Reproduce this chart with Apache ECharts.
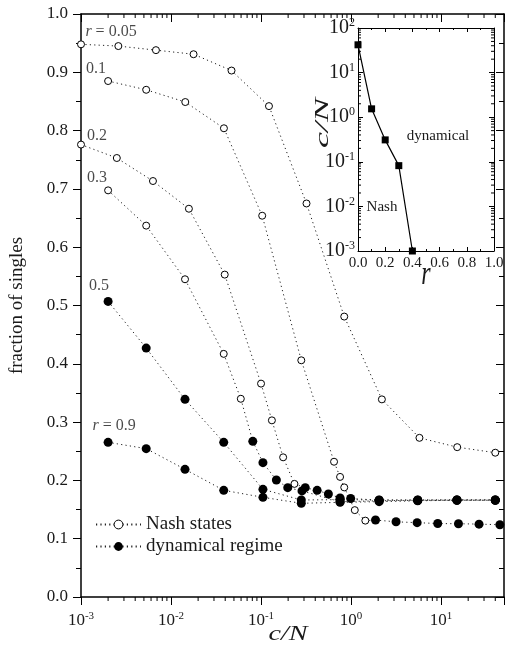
<!DOCTYPE html>
<html>
<head>
<meta charset="utf-8">
<script src="https://cdn.jsdelivr.net/npm/echarts@6/dist/echarts.min.js"></script>
<style>
  html, body { margin: 0; padding: 0; background: #fff; }
  #chart { width: 507px; height: 646px; }
</style>
</head>
<body>
<div id="chart"></div>
<script>
// ---- main panel: fraction of singles versus c/N, one curve per r ----
const r005_cn = [0.001, 0.0026, 0.0068, 0.0178, 0.047, 0.1225, 0.32, 0.84, 2.2, 5.75, 15.1, 40];
const r005_fs = [0.948, 0.945, 0.938, 0.931, 0.903, 0.842, 0.675, 0.481, 0.339, 0.273, 0.257, 0.2475];

const r01_cn = [0.002, 0.0053, 0.0144, 0.0387, 0.103, 0.28, 0.647, 0.755, 0.84, 1.1, 1.44,
                1.87, 3.16, 5.42, 9.18, 15.6, 26.4, 45];
const r01_fs = [0.885, 0.870, 0.849, 0.804, 0.654, 0.406, 0.232, 0.206, 0.188, 0.149, 0.131,
                0.132, 0.129, 0.1275, 0.126, 0.1257, 0.125, 0.124];

const r02_cn = [0.001, 0.0025, 0.0063, 0.0158, 0.0395, 0.1, 0.132, 0.176, 0.235,
                0.31, 0.42, 0.56, 0.755, 0.99, 2.05, 5.5, 15, 40];
const r02_fs = [0.776, 0.753, 0.7135, 0.666, 0.553, 0.366, 0.303, 0.2396, 0.194,
                0.1875, 0.183, 0.1767, 0.170, 0.169, 0.166, 0.166, 0.1665, 0.1665];

const r03_cn = [0.002, 0.0053, 0.0143, 0.0385, 0.0596,
                0.081, 0.105, 0.148, 0.198, 0.285, 0.755, 2.05, 5.5, 15, 40];
const r03_fs = [0.6975, 0.637, 0.545, 0.417, 0.340,
                0.267, 0.2304, 0.2007, 0.1875, 0.182, 0.1635, 0.165, 0.166, 0.166, 0.166];

const r05_cn = [0.002, 0.0053, 0.0143, 0.0385, 0.105, 0.28, 0.755, 2.05, 5.5, 15, 40];
const r05_fs = [0.507, 0.427, 0.339, 0.2653, 0.1847, 0.1664, 0.167, 0.1665, 0.1665, 0.1665, 0.1665];

const r09_cn = [0.002, 0.0053, 0.0143, 0.0385, 0.105, 0.28, 0.755, 2.05, 5.5, 15, 40];
const r09_fs = [0.2653, 0.2545, 0.219, 0.183, 0.171, 0.1607, 0.1624, 0.1635, 0.165, 0.166, 0.166];

// how many leading points of each curve are Nash states (the rest are dynamical)
const curveLabels = ['r = 0.05', '0.1', '0.2', '0.3', '0.5', 'r = 0.9'];
const curveCN = [r005_cn, r01_cn, r02_cn, r03_cn, r05_cn, r09_cn];
const curveFS = [r005_fs, r01_fs, r02_fs, r03_fs, r05_fs, r09_fs];
const nashCounts = [12, 11, 9, 5, 0, 0];

// ---- inset: threshold c/N separating Nash and dynamical regimes ----
const inset_r = [0, 0.1, 0.2, 0.3, 0.4];
const inset_cn = [42, 1.54, 0.31, 0.082, 0.001];

const SERIF = 'Liberation Serif';
const INK = '#1a1a1a';

// label offsets (pixels) from each curve's first point
const labelOffsets = [[30, -13], [-12, -12], [16, -9], [-11, -13], [-9, -16], [6, -17]];

const nashData = [];
const dynData = [];
curveCN.forEach((cn, k) => {
  const fs = curveFS[k];
  const n = nashCounts[k];
  for (let i = 0; i < n; i++) nashData.push([cn[i], fs[i]]);
  if (n > 0 && n < cn.length) {
    // dotted connector from the last Nash state to the first dynamical point
    nashData.push({ value: [cn[n], fs[n]], symbol: 'none' });
  }
  if (n > 0) nashData.push(['-', '-']);
  if (n < cn.length) {
    for (let i = n; i < cn.length; i++) dynData.push([cn[i], fs[i]]);
    dynData.push(['-', '-']);
  }
});

const labelData = curveCN.map((cn, k) => ({
  value: [cn[0], curveFS[k][0]],
  label: {
    show: true,
    position: 'inside',
    offset: labelOffsets[k],
    formatter: curveLabels[k].startsWith('r')
      ? '{i|r}{t|' + curveLabels[k].slice(1) + '}'
      : '{t|' + curveLabels[k] + '}'
  }
}));

function pow10Label(v) {
  const e = Math.log10(v);
  const k = Math.round(e);
  if (Math.abs(e - k) > 1e-6) return '';
  return '{b|10}{s|' + k + '}';
}

function logMinors(lo, hi) {
  const out = [];
  for (let e = Math.floor(Math.log10(lo)); e <= Math.ceil(Math.log10(hi)); e++) {
    for (let m = 2; m <= 9; m++) {
      const v = m * Math.pow(10, e);
      if (v > lo * 1.0001 && v < hi * 0.9999) out.push(v);
    }
  }
  return out;
}

const MAIN_XMIN = 0.001, MAIN_XMAX = 50;
const INSET_YMIN = 0.001, INSET_YMAX = 100;

const tickStyle = { stroke: '#000', lineWidth: 1 };
const mainLine = { onZero: false, lineStyle: { color: '#000', width: 1.5 } };
const insetLine = { onZero: false, lineStyle: { color: '#000', width: 1 } };

const chart = echarts.init(document.getElementById('chart'), null, { renderer: 'canvas' });

chart.setOption({
  backgroundColor: '#fff',
  animation: false,
  textStyle: { fontFamily: SERIF, color: INK },
  grid: [
    { left: 77, right: 3, top: 14, bottom: 49 },
    { left: 358, top: 28, width: 136, height: 223, show: true, backgroundColor: '#fff', borderWidth: 0 }
  ],
  legend: {
    data: ['Nash states', 'dynamical regime'],
    orient: 'vertical',
    left: 90,
    top: 510,
    itemWidth: 45,
    itemHeight: 11,
    itemGap: 3,
    itemStyle: { borderWidth: 1 },
    textStyle: { fontFamily: SERIF, fontSize: 19, color: INK }
  },
  xAxis: [
    {
      type: 'log', logBase: 10, gridIndex: 0, min: MAIN_XMIN, max: MAIN_XMAX,
      axisLine: mainLine,
      axisTick: { length: 8, lineStyle: { color: '#000', width: 1 } },
      splitLine: { show: false },
      axisLabel: {
        margin: 14, formatter: pow10Label,
        rich: {
          b: { fontFamily: SERIF, fontSize: 17, color: INK, lineHeight: 19 },
          s: { fontFamily: SERIF, fontSize: 11, color: INK, verticalAlign: 'top', lineHeight: 11 }
        }
      }
    },
    {
      type: 'log', logBase: 10, gridIndex: 0, min: MAIN_XMIN, max: MAIN_XMAX, position: 'top',
      axisLine: mainLine,
      axisTick: { inside: true, length: 8, lineStyle: { color: '#000', width: 1 } },
      axisLabel: { show: false }, splitLine: { show: false }
    },
    {
      type: 'value', gridIndex: 1, min: 0, max: 1, interval: 0.2,
      axisLine: insetLine,
      axisTick: { inside: true, length: 4, lineStyle: { color: '#000' } },
      minorTick: { show: true, splitNumber: 2, length: 2, lineStyle: { color: '#000' } },
      splitLine: { show: false },
      axisLabel: { margin: 5, fontFamily: SERIF, fontSize: 15, color: INK, formatter: v => v.toFixed(1) }
    },
    {
      type: 'value', gridIndex: 1, min: 0, max: 1, interval: 0.2, position: 'top',
      axisLine: insetLine,
      axisTick: { inside: true, length: 4, lineStyle: { color: '#000' } },
      minorTick: { show: true, splitNumber: 2, length: 2, lineStyle: { color: '#000' } },
      axisLabel: { show: false }, splitLine: { show: false }
    }
  ],
  yAxis: [
    {
      type: 'value', gridIndex: 0, min: 0, max: 1, interval: 0.1,
      name: 'fraction of singles', nameLocation: 'middle', nameGap: 54,
      nameTextStyle: { fontFamily: SERIF, fontSize: 19, color: INK },
      axisLine: mainLine,
      axisTick: { length: 8, lineStyle: { color: '#000', width: 1 } },
      minorTick: { show: true, splitNumber: 2, length: 5, lineStyle: { color: '#000', width: 1 } },
      splitLine: { show: false },
      axisLabel: { margin: 13, fontFamily: SERIF, fontSize: 17, color: INK, formatter: v => v.toFixed(1) }
    },
    {
      type: 'value', gridIndex: 0, min: 0, max: 1, interval: 0.1, position: 'right',
      axisLine: mainLine,
      axisTick: { inside: true, length: 8, lineStyle: { color: '#000', width: 1 } },
      minorTick: { show: true, splitNumber: 2, length: 5, lineStyle: { color: '#000', width: 1 } },
      axisLabel: { show: false }, splitLine: { show: false }
    },
    {
      type: 'log', logBase: 10, gridIndex: 1, min: INSET_YMIN, max: INSET_YMAX,
      axisLine: insetLine,
      axisTick: { inside: true, length: 5, lineStyle: { color: '#000' } },
      splitLine: { show: false },
      axisLabel: {
        margin: 3, formatter: pow10Label,
        rich: {
          b: { fontFamily: SERIF, fontSize: 20, color: INK, lineHeight: 22 },
          s: { fontFamily: SERIF, fontSize: 12, color: INK, verticalAlign: 'top', lineHeight: 12 }
        }
      }
    },
    {
      type: 'log', logBase: 10, gridIndex: 1, min: INSET_YMIN, max: INSET_YMAX, position: 'right',
      axisLine: insetLine,
      axisTick: { inside: true, length: 5, lineStyle: { color: '#000' } },
      axisLabel: { show: false }, splitLine: { show: false }
    }
  ],
  graphic: [
    {
      type: 'text', x: 288, y: 634, scaleX: 1.28, z: 10,
      style: { text: 'c/N', fontFamily: SERIF, fontStyle: 'italic', fontSize: 22, fill: INK,
               align: 'center', verticalAlign: 'middle' }
    },
    {
      type: 'text', x: 323, y: 123, rotation: Math.PI / 2, scaleX: 1.9, z: 10,
      style: { text: 'c/N', fontFamily: SERIF, fontStyle: 'italic', fontSize: 19, fill: INK,
               align: 'center', verticalAlign: 'middle' }
    },
    {
      type: 'text', x: 426, y: 275, scaleY: 1.4, z: 10,
      style: { text: 'r', fontFamily: SERIF, fontStyle: 'italic', fontSize: 24, fill: INK,
               align: 'center', verticalAlign: 'middle' }
    },
    {
      type: 'text', x: 438, y: 136, z: 10,
      style: { text: 'dynamical', fontFamily: SERIF, fontSize: 15, fill: INK,
               align: 'center', verticalAlign: 'middle' }
    },
    {
      type: 'text', x: 382, y: 207, z: 10,
      style: { text: 'Nash', fontFamily: SERIF, fontSize: 15, fill: INK,
               align: 'center', verticalAlign: 'middle' }
    }
  ],
  series: [
    {
      name: 'Nash states', type: 'line', xAxisIndex: 0, yAxisIndex: 0, z: 3,
      data: nashData, connectNulls: false,
      symbol: 'circle', symbolSize: 7, showAllSymbol: true,
      itemStyle: { color: '#fff', borderColor: '#000', borderWidth: 1 },
      lineStyle: { color: '#222', width: 1, type: [1.2, 3.2] },
      emphasis: { disabled: true }
    },
    {
      name: 'dynamical regime', type: 'line', xAxisIndex: 0, yAxisIndex: 0, z: 4,
      data: dynData, connectNulls: false,
      symbol: 'circle', symbolSize: 9, showAllSymbol: true,
      itemStyle: { color: '#000' },
      lineStyle: { color: '#222', width: 1, type: [1.2, 3.2] },
      emphasis: { disabled: true }
    },
    {
      name: 'curve labels', type: 'scatter', xAxisIndex: 0, yAxisIndex: 0, z: 5,
      data: labelData, symbolSize: 0.01, silent: true,
      label: {
        color: INK,
        rich: {
          i: { fontFamily: SERIF, fontStyle: 'italic', fontSize: 16, color: INK },
          t: { fontFamily: SERIF, fontSize: 16, color: INK }
        }
      }
    },
    {
      name: 'main minor ticks', type: 'custom', xAxisIndex: 0, yAxisIndex: 0, z: 6, silent: true,
      data: logMinors(MAIN_XMIN, MAIN_XMAX).map(v => [v, 0.5]),
      renderItem: (params, api) => {
        const cs = params.coordSys;
        const x = api.coord([api.value(0), 0.5])[0];
        const yb = cs.y + cs.height;
        return { type: 'group', children: [
          { type: 'line', shape: { x1: x, y1: yb, x2: x, y2: yb + 4 }, style: tickStyle },
          { type: 'line', shape: { x1: x, y1: cs.y, x2: x, y2: cs.y + 4 }, style: tickStyle }
        ] };
      }
    },
    {
      name: 'threshold', type: 'line', xAxisIndex: 2, yAxisIndex: 2, z: 6,
      data: inset_r.map((r, i) => [r, inset_cn[i]]),
      symbol: 'rect', symbolSize: 7, showAllSymbol: true,
      itemStyle: { color: '#000' },
      lineStyle: { color: '#000', width: 1.2 },
      emphasis: { disabled: true }
    },
    {
      name: 'inset minor ticks', type: 'custom', xAxisIndex: 2, yAxisIndex: 2, z: 7, silent: true,
      data: logMinors(INSET_YMIN, INSET_YMAX).map(v => [0.5, v]),
      renderItem: (params, api) => {
        const cs = params.coordSys;
        const y = api.coord([0.5, api.value(1)])[1];
        const xr = cs.x + cs.width;
        return { type: 'group', children: [
          { type: 'line', shape: { x1: cs.x, y1: y, x2: cs.x + 3, y2: y }, style: tickStyle },
          { type: 'line', shape: { x1: xr, y1: y, x2: xr - 3, y2: y }, style: tickStyle }
        ] };
      }
    }
  ]
});
</script>
</body>
</html>
